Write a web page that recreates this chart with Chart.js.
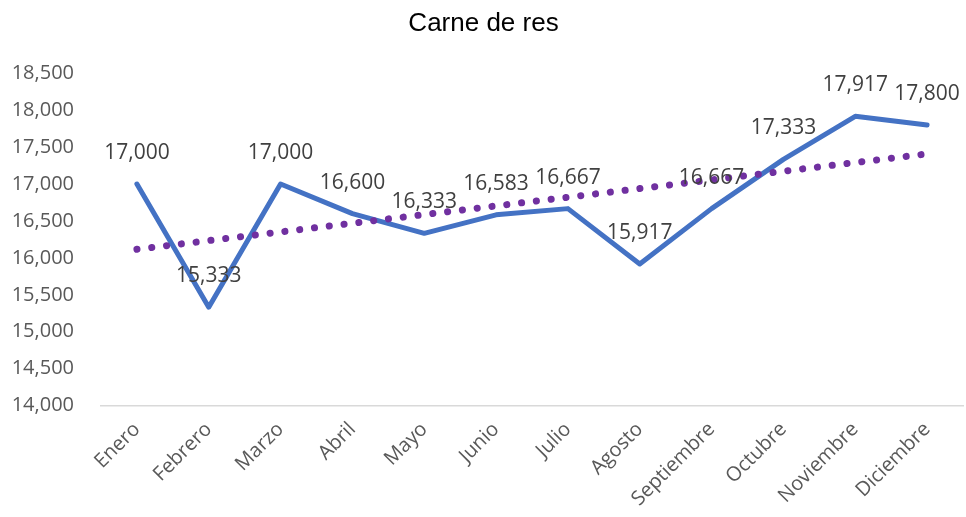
<!DOCTYPE html>
<html>
<head>
<meta charset="utf-8">
<script src="https://cdn.jsdelivr.net/npm/chart.js@4/dist/chart.umd.min.js"></script>
<style>
  html, body { margin: 0; padding: 0; background: #fff; }
  #wrap { width: 966px; height: 517px; }
</style>
</head>
<body>
<div id="wrap"><canvas id="chart-line-1"></canvas></div>
<script>
'use strict';

var months = ['Enero', 'Febrero', 'Marzo', 'Abril', 'Mayo', 'Junio', 'Julio',
    'Agosto', 'Septiembre', 'Octubre', 'Noviembre', 'Diciembre'];
var prices = [17000, 15333, 17000, 16600, 16333, 16583, 16667, 15917, 16667, 17333, 17917, 17800];
// linear trend, read at its two ends
var trend = [16117, null, null, null, null, null, null, null, null, null, null, 17408];

var fmt = function(v) { return v.toLocaleString('en-US'); };

// [ labels above points ]
var pointLabels = {
    id: 'pointLabels',
    afterDatasetsDraw: function(chart) {
        var ctx = chart.ctx;
        var meta = chart.getDatasetMeta(0);
        ctx.save();
        ctx.font = '21px "Open Sans"';
        ctx.fillStyle = '#404040';
        ctx.textAlign = 'center';
        ctx.textBaseline = 'middle';
        meta.data.forEach(function(pt, i) {
            ctx.fillText(fmt(prices[i]), pt.x, pt.y - 31);
        });
        ctx.restore();
    }
};

var ctx = document.getElementById('chart-line-1').getContext('2d');
var myChart = new Chart(ctx, {
    type: 'line',
    data: {
        labels: months,
        datasets: [{
            data: prices,
            borderColor: '#4472C4',
            borderWidth: 5,
            borderCapStyle: 'round',
            borderJoinStyle: 'round',
            pointRadius: 0,
            tension: 0,
            order: 2
        }, {
            data: trend,
            spanGaps: true,
            borderColor: '#7030A0',
            borderWidth: 7,
            borderCapStyle: 'round',
            borderDash: [0.1, 14.8],
            pointRadius: 0,
            order: 1
        }]
    },
    plugins: [pointLabels],
    options: {
        responsive: true,
        maintainAspectRatio: false,
        animation: false,
        layout: { padding: { left: 4, right: 3, top: 0, bottom: 2 } },
        plugins: {
            legend: { display: false },
            tooltip: { enabled: false },
            title: {
                display: true,
                text: 'Carne de res',
                color: '#000',
                font: { family: '"Liberation Sans"', size: 26, weight: 'normal' },
                padding: { top: 8, bottom: 34 }
            }
        },
        scales: {
            x: {
                offset: true,
                grid: { display: false },
                border: { display: true, color: '#d9d9d9', width: 1.5 },
                ticks: {
                    color: '#595959',
                    font: { family: '"Open Sans"', size: 20 },
                    minRotation: 45,
                    maxRotation: 45,
                    padding: 4
                }
            },
            y: {
                min: 14000,
                max: 18500,
                grid: { display: false },
                border: { display: false },
                afterFit: function(scale) { scale.width = 97; },
                ticks: {
                    stepSize: 500,
                    color: '#595959',
                    font: { family: '"Open Sans"', size: 20 },
                    padding: 19,
                    callback: function(v) { return fmt(v); }
                }
            }
        }
    }
});
</script>
</body>
</html>
